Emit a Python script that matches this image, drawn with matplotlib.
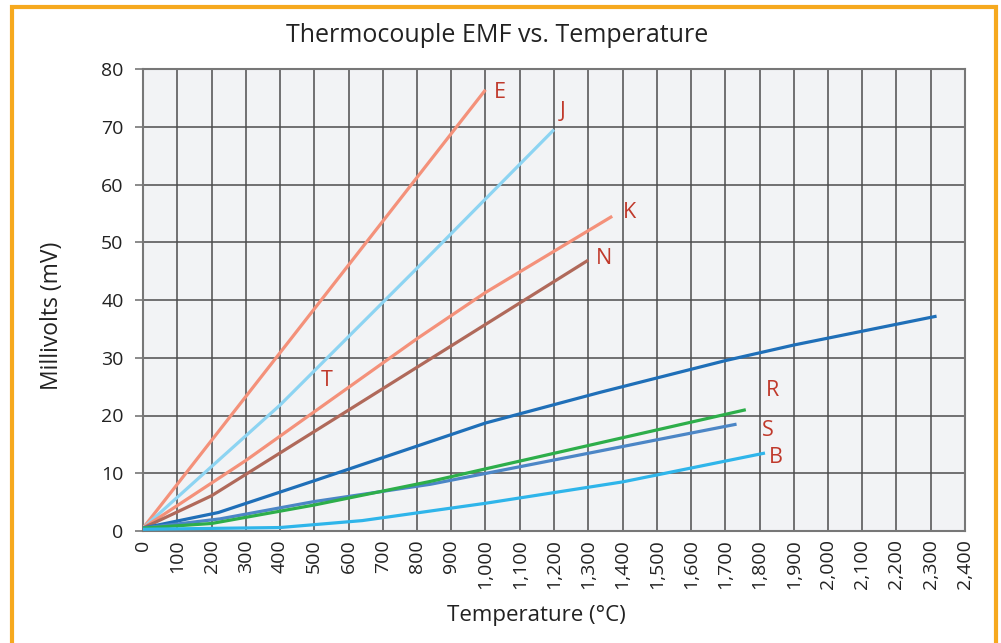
import matplotlib
matplotlib.use("Agg")
import matplotlib.pyplot as plt
from matplotlib.patches import Rectangle
from matplotlib.ticker import FuncFormatter

# Data (temperature °C, EMF mV)
E_t = [0, 1000]
E_v = [0.5, 76.4]
J_t = [0, 400, 800, 1200]
J_v = [0.5, 21.8, 45.5, 69.5]
K_t = [0, 300, 800, 1000, 1370]
K_v = [0.5, 12.2, 33.3, 41.3, 54.5]
N_t = [0, 200, 300, 1300]
N_v = [0.5, 6.1, 9.8, 46.9]
C_t = [0, 220, 500, 1000, 1334, 1700, 1900, 2317]
C_v = [0.5, 3.2, 8.7, 18.7, 24.0, 29.5, 32.2, 37.2]
R_t = [0, 200, 500, 840, 1760]
R_v = [0.5, 1.3, 4.5, 8.6, 21.0]
S_t = [0, 225, 500, 840, 1733]
S_v = [0.5, 2.1, 5.1, 8.1, 18.5]
B_t = [0, 400, 640, 1000, 1400, 1500, 1816]
B_v = [0.3, 0.6, 1.8, 4.8, 8.5, 9.7, 13.5]

series = [
    (E_t, E_v, "#F4917A"),
    (J_t, J_v, "#8DD4F2"),
    (K_t, K_v, "#F4917A"),
    (N_t, N_v, "#B0695A"),
    (C_t, C_v, "#1F6FB8"),
    (S_t, S_v, "#4C86C6"),
    (R_t, R_v, "#2DAE4A"),
    (B_t, B_v, "#2FB5EA"),
]

labels = ["E", "J", "K", "N", "T", "R", "S", "B"]
label_x = [1042, 1226, 1419, 1346, 537, 1839, 1825, 1848]
label_y = [76.0, 72.6, 55.2, 47.2, 26.0, 24.3, 17.4, 12.7]

x_ticks = list(range(0, 2401, 100))
y_ticks = list(range(0, 81, 10))

plt.rcParams['font.family'] = ['Open Sans', 'DejaVu Sans']

fig = plt.figure(figsize=(10.01, 6.43), dpi=100)
fig.patch.set_facecolor("white")
ax = fig.add_axes([143/1001, 1-531/643, (965-143)/1001, (531-69)/643])
ax.set_facecolor("#F2F3F5")

for t, v, c in series:
    ax.plot(t, v, color=c, lw=2.3, solid_capstyle="butt", zorder=3)

for lab, lx, ly in zip(labels, label_x, label_y):
    ax.text(lx, ly, lab, color="#C0392B", fontsize=15.5, ha="center", va="center", zorder=4)

ax.set_xlim(0, 2400)
ax.set_ylim(0, 80)
ax.set_xticks(x_ticks)
ax.set_yticks(y_ticks)
ax.xaxis.set_major_formatter(FuncFormatter(lambda v, p: f"{int(v):,}"))
ax.tick_params(axis="x", length=0, labelsize=14, rotation=90, pad=6, colors="#222222")
ax.tick_params(axis="y", length=6, width=1.2, labelsize=14, pad=8)
ax.tick_params(axis="y", colors="#777777", labelcolor="#222222")
ax.grid(True, color="#4d4d4d", lw=1.1, zorder=1)
ax.set_axisbelow(True)
for s in ax.spines.values():
    s.set_color("#777777")
    s.set_linewidth(1.5)

fig.text(497/1001, 1-35/643, "Thermocouple EMF vs. Temperature", ha="center", va="center",
         fontsize=18, color="#222222")
fig.text(52/1001, 1-316/643, "Millivolts (mV)", ha="center", va="center", rotation=90,
         fontsize=16.5, color="#222222")
fig.text(536/1001, 1-615/643, "Temperature (\u00b0C)", ha="center", va="center",
         fontsize=16, color="#222222")

border = Rectangle((12/1001, -0.1), (996-12)/1001, 1-7/643+0.1, transform=fig.transFigure,
                   fill=False, edgecolor="#F6A91E", lw=3, zorder=10)
fig.patches.append(border)

fig.savefig("out.png", dpi=100)
